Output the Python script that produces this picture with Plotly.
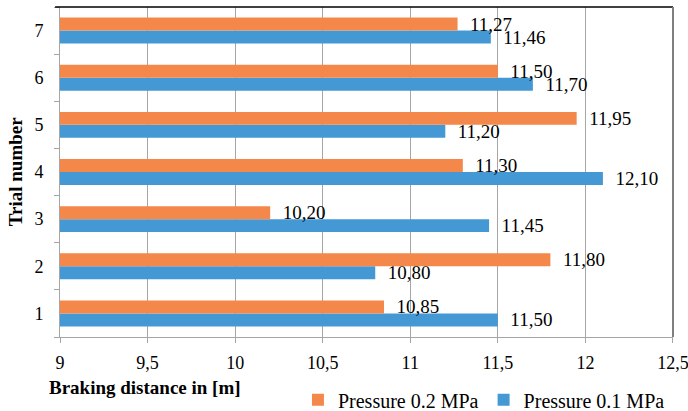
import plotly.graph_objects as go

trials = ["1", "2", "3", "4", "5", "6", "7"]
p01 = [11.50, 10.80, 11.45, 12.10, 11.20, 11.70, 11.46]
p02 = [10.85, 11.80, 10.20, 11.30, 11.95, 11.50, 11.27]
x_ticks = [9, 9.5, 10, 10.5, 11, 11.5, 12, 12.5]

FONT = "Liberation Serif"
BLUE = "#4499D5"
ORANGE = "#F4874A"

fig = go.Figure()
fig.add_trace(go.Bar(
    y=trials, x=p01, orientation="h", name="Pressure 0.1 MPa",
    marker=dict(color=BLUE, line=dict(width=0)),
    texttemplate="  %{x:.2f}", textposition="outside", cliponaxis=False,
    constraintext="none", textfont=dict(family=FONT, size=19, color="black"),
))
fig.add_trace(go.Bar(
    y=trials, x=p02, orientation="h", name="Pressure 0.2 MPa",
    marker=dict(color=ORANGE, line=dict(width=0)),
    texttemplate="  %{x:.2f}", textposition="outside", cliponaxis=False,
    constraintext="none", textfont=dict(family=FONT, size=19, color="black"),
))

fig.update_layout(
    width=688, height=411,
    margin=dict(l=60, r=15, t=7, b=74, autoexpand=False),
    paper_bgcolor="white", plot_bgcolor="white",
    separators=", ",
    barmode="group", bargap=0.45, bargroupgap=0,
    font=dict(family=FONT, size=18, color="black"),
    showlegend=True,
    legend=dict(orientation="h", traceorder="reversed",
                x=0.995, xanchor="right", y=-0.19, yanchor="middle",
                font=dict(family=FONT, size=20, color="black"),
                itemwidth=30, bgcolor="rgba(0,0,0,0)"),
    xaxis=dict(range=[9, 12.5001], tickvals=x_ticks, showgrid=True,
               gridcolor="#A6A6A6", gridwidth=1, zeroline=False, automargin=False,
               showline=True, linecolor="#A6A6A6", linewidth=1,
               ticks="outside", ticklen=5, tickcolor="#A6A6A6",
               ticklabelstandoff=4, ticklabeloverflow="allow",
               tickfont=dict(family=FONT, size=18, color="black")),
    yaxis=dict(type="category", categoryorder="array", categoryarray=trials,
               showgrid=False, zeroline=False, automargin=False,
               showline=True, linecolor="#A6A6A6", linewidth=1,
               ticks="outside", ticklen=5, tickcolor="#A6A6A6",
               tickson="boundaries", ticklabelstandoff=12,
               tickfont=dict(family=FONT, size=18, color="black")),
    shapes=[
        dict(type="line", xref="paper", yref="paper", x0=-0.008, x1=1, y0=1, y1=1,
             line=dict(color="black", width=1.5)),
        dict(type="line", xref="paper", yref="paper", x0=1, x1=1, y0=0, y1=1,
             line=dict(color="#7F7F7F", width=2)),
    ],
    annotations=[
        dict(text="<b>Braking distance in [m]</b>", xref="paper", yref="paper",
             x=-0.021, y=-0.152, xanchor="left", yanchor="middle", showarrow=False,
             font=dict(family=FONT, size=19, color="black")),
        dict(text="<b>Trial number</b>", xref="paper", yref="paper",
             x=-0.073, y=0.5, xanchor="center", yanchor="middle", textangle=-90,
             showarrow=False, font=dict(family=FONT, size=19, color="black")),
    ],
)

fig.write_html("out.html",
               config={"displayModeBar": False},
               post_script="document.body.style.margin='0';document.body.style.overflow='hidden';")
